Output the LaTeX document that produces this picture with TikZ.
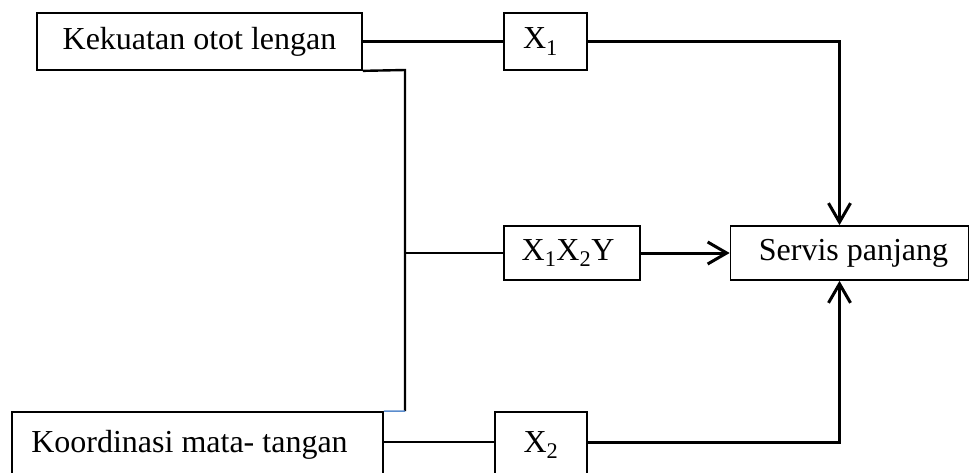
\documentclass[tikz,border=0pt]{standalone}
\usepackage{fontspec}
\setmainfont{Liberation Serif}
\usetikzlibrary{arrows.meta}
\definecolor{joinblue}{RGB}{90,140,205}
\tikzset{
  box/.style={draw, line width=1.7pt, minimum height=57pt, inner sep=0pt,
    font=\fontsize{32}{38}\selectfont},
  link/.style={line width=2.4pt},
  feed/.style={line width=3pt, -{Straight Barb[length=19pt, width=22pt, line width=3pt]}}
}
\begin{document}
\begin{tikzpicture}[x=1pt, y=-1pt]
  \useasboundingbox (0,0) rectangle (969,472);
  \clip (0,0) rectangle (969,472);

  % source variables
  \node[box, minimum width=325pt] (arm) at (199.5,41.5) {Kekuatan otot lengan};
  \node[box, minimum width=371pt, minimum height=66pt] (eye) at (197.5,445)
    {\raisebox{3pt}{Koordinasi mata- tangan}\hspace*{16pt}};

  % intermediate labels
  \node[box, minimum width=83pt] (x1) at (545.5,41.5) {X\textsubscript{1}\hspace*{10pt}};
  \node[box, minimum width=136pt, minimum height=54pt] (x12y) at (572,253) {X\textsubscript{1}X\textsubscript{2}Y\hspace*{8pt}};
  \node[box, minimum width=92pt, minimum height=66pt] (x2) at (541,445) {\raisebox{3pt}{X\textsubscript{2}}};

  % outcome
  \node[box, minimum width=238pt, minimum height=54pt] (serv) at (849.5,253) {\hspace*{8pt}Servis panjang};

  % joining line between the two sources
  \coordinate (jtop) at (405,70);
  \coordinate (jmid) at (405,253);
  \coordinate (jbot) at (405,411);

  \draw[link] (arm.east) -- (x1.west);
  \draw[link] (arm.south east) -- (jtop) -- (jbot);
  \draw[line width=1.5pt, joinblue] (eye.north east) -- (jbot);
  \draw[link] (jmid) -- (x12y.west);
  \draw[link] ([yshift=3pt]eye.east) -- ([yshift=3pt]x2.west);

  % paths into the outcome
  \draw[feed] (x1.east) -| ([xshift=-10pt]serv.north);
  \draw[feed] (x12y.east) -- (serv.west);
  \draw[feed] ([yshift=3pt]x2.east) -| ([xshift=-10pt]serv.south);
\end{tikzpicture}
\end{document}
